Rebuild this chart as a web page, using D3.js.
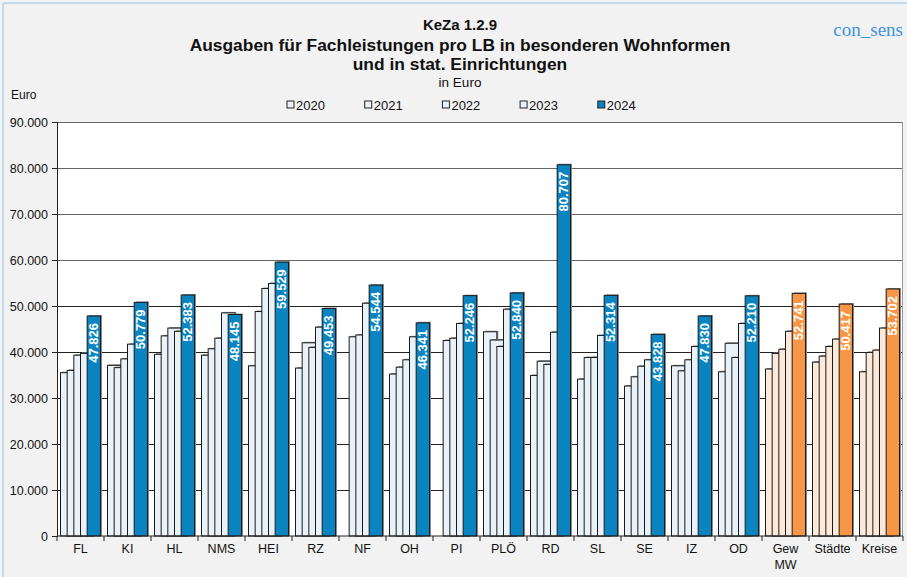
<!DOCTYPE html>
<html>
<head>
<meta charset="utf-8">
<script src="https://cdn.jsdelivr.net/npm/d3@7"></script>
<style>
  body { margin: 0; background: #f2f2f2; }
  svg { display: block; font-family: "Liberation Sans", Arial, sans-serif; }
</style>
</head>
<body>
<div id="chart"></div>
<script>
// data
const categories = ["FL","KI","HL","NMS","HEI","RZ","NF","OH","PI","PLÖ","RD","SL","SE","IZ","OD","Gew MW","Städte","Kreise"];
const years = ["2020","2021","2022","2023","2024"];
const v2020 = [35500,37100,39500,39300,37000,36500,null,35200,null,44400,34900,34100,32600,37000,35700,36300,37800,35700];
const v2021 = [36000,36600,43500,40700,48800,42000,43300,36700,42500,42600,38000,38800,34600,35900,41900,39700,39100,39900];
const v2022 = [39300,38500,45200,43000,53800,41000,43700,38300,43000,41200,37300,38800,36900,38300,38800,40600,41200,40400];
const v2023 = [39700,41700,44500,48500,54900,45400,50600,43300,46200,49300,44300,43600,38300,41200,46200,44500,42800,45200];
const v2024 = [47826,50779,52383,48145,59529,49453,54544,46341,52246,52840,80707,52314,43828,47830,52210,52741,50417,53702];
const yTicks = [0,10000,20000,30000,40000,50000,60000,70000,80000,90000];
const aggregates = ["Gew MW","Städte","Kreise"];

const series = [v2020, v2021, v2022, v2023, v2024];

const width = 907, height = 577;
const margin = {top: 122, right: 4, bottom: 41, left: 57};

const de = d3.formatLocale({decimal: ",", thousands: ".", grouping: [3], currency: ["", " €"]});
const fmt = de.format(",.0f");

const svg = d3.select("#chart").append("svg")
    .attr("width", width)
    .attr("height", height);

svg.append("rect").attr("width", width).attr("height", height).attr("fill", "#f2f2f2");
// thin blue frame on left and top
svg.append("line").attr("x1", 3).attr("x2", 3).attr("y1", 3).attr("y2", height).attr("stroke", "#8cc4e8").attr("stroke-width", 1);
svg.append("line").attr("x1", 3).attr("x2", width).attr("y1", 3).attr("y2", 3).attr("stroke", "#8cc4e8").attr("stroke-width", 1);

const x = d3.scaleBand()
    .domain(categories)
    .range([margin.left, width - margin.right])
    .paddingInner(7/47)
    .paddingOuter(3.5/47);

const y = d3.scaleLinear()
    .domain([0, 90000])
    .range([height - margin.bottom, margin.top]);

// bars overlap by half: each bar two units wide, shifted one unit per year
const unit = d3.scaleLinear().domain([0, 6]).range([0, x.bandwidth()]);

// plot area
svg.append("rect")
    .attr("x", margin.left).attr("y", margin.top)
    .attr("width", width - margin.right - margin.left)
    .attr("height", y(0) - margin.top)
    .attr("fill", "white");

// gridlines
svg.append("g")
  .selectAll("line")
  .data(yTicks.filter(d => d > 0))
  .join("line")
    .attr("x1", margin.left).attr("x2", width - margin.right)
    .attr("y1", d => Math.round(y(d)) + 0.5).attr("y2", d => Math.round(y(d)) + 0.5)
    .attr("stroke", d => d >= 60000 ? "#666" : "#222")
    .attr("stroke-width", 1);

svg.append("line")
    .attr("x1", width - margin.right - 0.5).attr("x2", width - margin.right - 0.5)
    .attr("y1", margin.top).attr("y2", y(0))
    .attr("stroke", "#999");

const isAgg = c => aggregates.includes(c);
const lightFill = c => isAgg(c) ? "#fde9d9" : "#e9f2f8";
const darkFill = c => isAgg(c) ? "#f79646" : "#0a84c1";

const bars = svg.append("g");
series.forEach((vals, i) => {
  const g = bars.append("g").attr("class", "y" + years[i]);
  const data = categories.map((c, j) => ({c, v: vals[j]})).filter(d => d.v != null);
  g.selectAll("rect.shadow")
    .data(data)
    .join("rect")
      .attr("class", "shadow")
      .attr("x", d => x(d.c) + unit(i) + 1.5)
      .attr("y", d => y(d.v) - 1)
      .attr("width", unit(2) - unit(0))
      .attr("height", d => y(0) - y(d.v) + 1)
      .attr("fill", "#8a8a8a");
  g.selectAll("rect.bar")
    .data(data)
    .join("rect")
      .attr("class", "bar")
      .attr("x", d => x(d.c) + unit(i))
      .attr("y", d => y(d.v))
      .attr("width", unit(2) - unit(0))
      .attr("height", d => y(0) - y(d.v))
      .attr("fill", d => i === 4 ? darkFill(d.c) : lightFill(d.c))
      .attr("stroke", "#1a1a1a")
      .attr("stroke-width", 1);
});

// value labels in the 2024 bars
svg.append("g")
  .selectAll("text")
  .data(categories.map((c, j) => ({c, v: v2024[j]})))
  .join("text")
    .attr("transform", d => `translate(${x(d.c) + unit(5) + 4.5},${y(d.v) + 7}) rotate(-90)`)
    .attr("text-anchor", "end")
    .attr("fill", "white")
    .attr("font-weight", "bold")
    .attr("font-size", 13)
    .text(d => fmt(d.v));

// y axis
const yAxis = svg.append("g")
    .attr("transform", `translate(${margin.left},0)`)
    .call(d3.axisLeft(y).tickValues(yTicks).tickSize(5).tickPadding(4).tickFormat(fmt));
yAxis.select(".domain").attr("stroke", "#222");
yAxis.selectAll(".tick line").attr("stroke", "#222");
yAxis.selectAll("text").attr("font-size", 12.5).attr("fill", "#111").attr("font-family", "Liberation Sans, Arial, sans-serif");

// x axis with ticks at group boundaries
const xAxis = svg.append("g").attr("transform", `translate(0,${y(0)})`);
xAxis.append("line")
    .attr("x1", margin.left).attr("x2", width - margin.right)
    .attr("stroke", "#222");
const step = x.step();
xAxis.selectAll("line.tk")
  .data(d3.range(categories.length + 1))
  .join("line")
    .attr("class", "tk")
    .attr("x1", i => margin.left + i * step).attr("x2", i => margin.left + i * step)
    .attr("y1", 0).attr("y2", 5)
    .attr("stroke", "#222");
xAxis.selectAll("text")
  .data(categories)
  .join("text")
    .attr("x", d => x(d) + x.bandwidth() / 2)
    .attr("y", 17)
    .attr("text-anchor", "middle")
    .attr("font-size", 12.5)
    .attr("fill", "#111")
    .each(function(d) {
      const parts = d.split(" ");
      d3.select(this).selectAll("tspan")
        .data(parts)
        .join("tspan")
          .attr("x", x(d) + x.bandwidth() / 2)
          .attr("dy", (p, k) => k === 0 ? 0 : 16)
          .text(p => p);
    });

// titles
const titles = svg.append("g").attr("text-anchor", "middle").attr("fill", "#111");
titles.append("text").attr("x", 460).attr("y", 30).attr("font-size", 15).attr("font-weight", "bold").text("KeZa 1.2.9");
titles.append("text").attr("x", 460).attr("y", 51).attr("font-size", 17.4).attr("font-weight", "bold").text("Ausgaben für Fachleistungen pro LB in besonderen Wohnformen");
titles.append("text").attr("x", 460).attr("y", 70).attr("font-size", 17.4).attr("font-weight", "bold").text("und in stat. Einrichtungen");
titles.append("text").attr("x", 460).attr("y", 87).attr("font-size", 13.5).text("in Euro");

svg.append("text").attr("x", 11).attr("y", 99).attr("font-size", 12).attr("fill", "#111").text("Euro");

svg.append("text")
    .attr("x", 903).attr("y", 36)
    .attr("text-anchor", "end")
    .attr("font-family", "Liberation Serif, serif")
    .attr("font-size", 19)
    .attr("fill", "#3f93e0")
    .text("con_sens");

// legend
const legend = svg.append("g")
  .selectAll("g")
  .data(years)
  .join("g")
    .attr("transform", (d, i) => `translate(${287 + i * 77.7},105)`);
legend.append("rect")
    .attr("x", 0).attr("y", -4)
    .attr("width", 7).attr("height", 7)
    .attr("fill", (d, i) => i === 4 ? "#0a84c1" : "#e9f2f8")
    .attr("stroke", "#222");
legend.append("text")
    .attr("x", 9).attr("y", 4.5)
    .attr("font-size", 13)
    .attr("fill", "#111")
    .text(d => d);
</script>
</body>
</html>
